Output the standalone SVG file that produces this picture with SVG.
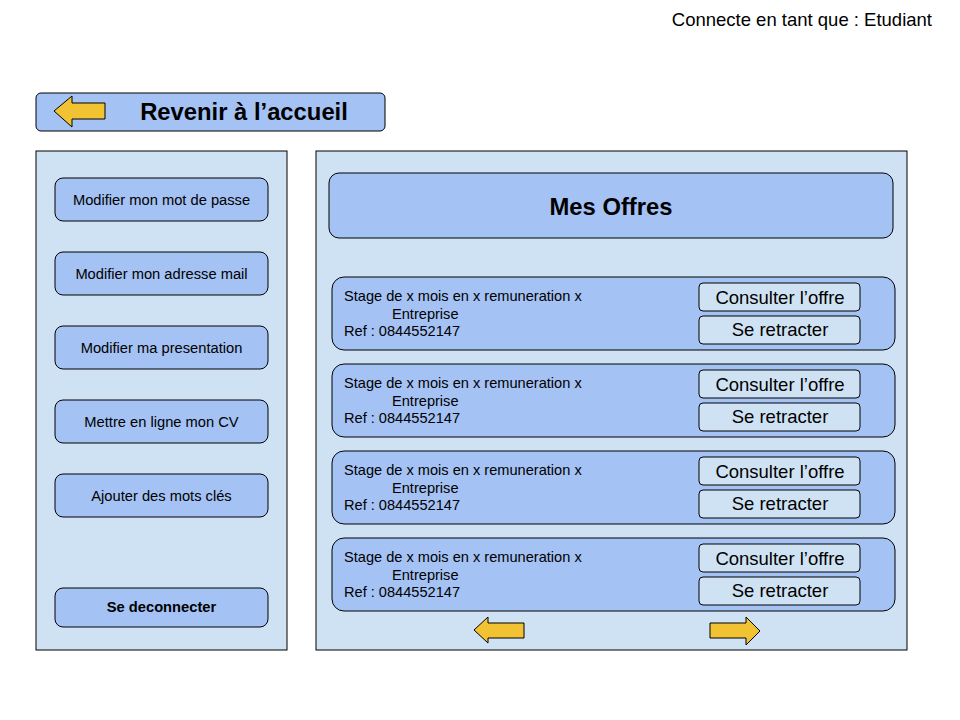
<svg xmlns="http://www.w3.org/2000/svg" width="960" height="720" viewBox="0 0 960 720">
<style>
text{font-family:"Liberation Sans",Arial,sans-serif;fill:#000}
.panel{fill:#cfe2f3;stroke:#000;stroke-width:1}
.node{fill:#a4c2f4;stroke:#000;stroke-width:1}
.btn{fill:#cfe2f3;stroke:#000;stroke-width:1}
.arrow{fill:#f1c232;stroke:#000;stroke-width:1}
.side{font-size:14.7px;text-anchor:middle}
.card{font-size:14.6px}
.act{font-size:18.5px;text-anchor:middle}
.title{font-size:23.8px;font-weight:bold;text-anchor:middle}
</style>
<defs>
<g id="card">
<rect class="node" x="332" y="0" width="563" height="73" rx="12"/>
<text class="card" x="344" y="24">Stage de x mois en x remuneration x</text>
<text class="card" x="392" y="42">Entreprise</text>
<text class="card" x="344" y="59">Ref : 0844552147</text>
</g>
</defs>
<rect width="960" height="720" fill="#fff"/>
<text id="user" x="932" y="26" font-size="18.5" text-anchor="end">Connecte en tant que : Etudiant</text>
<g id="back">
<rect class="node" x="36" y="93" width="349" height="38" rx="5"/>
<polygon class="arrow" points="54,111 72,96 72,103 105,103 105,119 72,119 72,127"/>
<text class="title" x="244" y="120">Revenir à l’accueil</text>
</g>
<g id="left-panel">
<rect class="panel" x="36" y="151" width="251" height="499"/>
</g>
<g id="btn-pass"><rect class="node" x="55" y="178" width="213" height="43" rx="8"/><text class="side" x="161.5" y="205">Modifier mon mot de passe</text></g>
<g id="btn-mail"><rect class="node" x="55" y="252" width="213" height="43" rx="8"/><text class="side" x="161.5" y="279">Modifier mon adresse mail</text></g>
<g id="btn-pres"><rect class="node" x="55" y="326" width="213" height="43" rx="8"/><text class="side" x="161.5" y="353">Modifier ma presentation</text></g>
<g id="btn-cv"><rect class="node" x="55" y="400" width="213" height="43" rx="8"/><text class="side" x="161.5" y="427">Mettre en ligne mon CV</text></g>
<g id="btn-keys"><rect class="node" x="55" y="474" width="213" height="43" rx="8"/><text class="side" x="161.5" y="501">Ajouter des mots clés</text></g>
<g id="btn-logout"><rect class="node" x="55" y="588" width="213" height="39" rx="8"/><text class="side" x="161.5" y="612" font-weight="bold">Se deconnecter</text></g>
<g id="right-panel">
<rect class="panel" x="316" y="151" width="591" height="499"/>
</g>
<g id="header">
<rect class="node" x="329" y="173" width="564" height="65" rx="10"/>
<text class="title" x="611" y="215">Mes Offres</text>
</g>
<g id="offer1">
<use href="#card" y="277"/>
<rect class="btn" x="699" y="283" width="161" height="28" rx="4"/><text class="act" x="780" y="304">Consulter l’offre</text>
<rect class="btn" x="699" y="316" width="161" height="28" rx="4"/><text class="act" x="780" y="336">Se retracter</text>
</g>
<g id="offer2">
<use href="#card" y="364"/>
<rect class="btn" x="699" y="370" width="161" height="28" rx="4"/><text class="act" x="780" y="391">Consulter l’offre</text>
<rect class="btn" x="699" y="403" width="161" height="28" rx="4"/><text class="act" x="780" y="423">Se retracter</text>
</g>
<g id="offer3">
<use href="#card" y="451"/>
<rect class="btn" x="699" y="457" width="161" height="28" rx="4"/><text class="act" x="780" y="478">Consulter l’offre</text>
<rect class="btn" x="699" y="490" width="161" height="28" rx="4"/><text class="act" x="780" y="510">Se retracter</text>
</g>
<g id="offer4">
<use href="#card" y="538"/>
<rect class="btn" x="699" y="544" width="161" height="28" rx="4"/><text class="act" x="780" y="565">Consulter l’offre</text>
<rect class="btn" x="699" y="577" width="161" height="28" rx="4"/><text class="act" x="780" y="597">Se retracter</text>
</g>
<g id="prev"><polygon class="arrow" points="474,630 488,617 488,623 524,623 524,638 488,638 488,643"/></g>
<g id="next"><polygon class="arrow" points="760,631 746,617 746,623 710,623 710,638 746,638 746,645"/></g>
<g id="connectors"></g>
</svg>
